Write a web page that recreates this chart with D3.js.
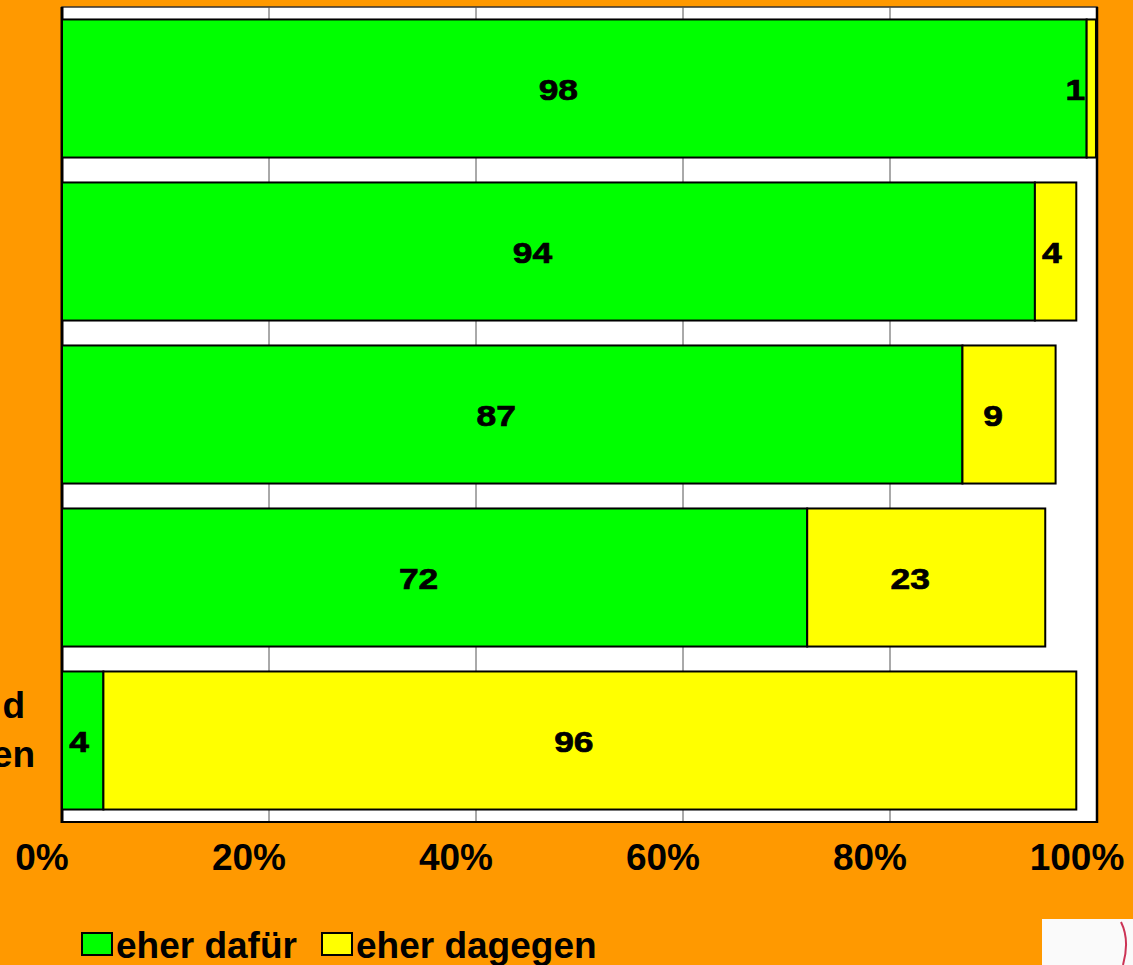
<!DOCTYPE html>
<html>
<head>
<meta charset="utf-8">
<script src="https://cdn.jsdelivr.net/npm/d3@7"></script>
<style>
  body { margin: 0; background: #ff9900; }
  svg { display: block; }
  text { font-family: "Liberation Sans", Arial, sans-serif; font-weight: bold; fill: #000; }
</style>
</head>
<body>
<div id="chart"></div>
<script>
// rows top to bottom
let rows = ["r1", "r2", "r3", "r4", "r5"];
let dafuer = [99, 94, 87, 72, 4];       // bar lengths as drawn
let dagegen = [0.9, 4, 9, 23, 94];
let dafuerLabels = ["98", "94", "87", "72", "4"];
let dagegenLabels = ["1", "4", "9", "23", "96"];
let tickValues = [0, 20, 40, 60, 80, 100];
let lastRowLabel = ["d", "en"];   // visible tail of the cut-off category label
let seriesNames = ["eher dafür", "eher dagegen"];
let seriesColors = ["#00ff00", "#ffff00"];

let width = 1133;
let height = 965;
let plotLeft = 62, plotRight = 1097, plotTop = 7, plotBottom = 822;

let svg = d3.select("#chart")
    .append("svg")
    .attr("width", width)
    .attr("height", height);

svg.append("rect")
    .attr("width", width)
    .attr("height", height)
    .attr("fill", "#ff9900");

let x = d3.scaleLinear()
    .domain([0, 100])
    .range([plotLeft, plotRight]);

let y = d3.scaleBand()
    .domain(rows)
    .range([plotTop, plotBottom])
    .paddingInner(0.153)
    .paddingOuter(0.0765);

// plot area
svg.append("rect")
    .attr("x", plotLeft)
    .attr("y", plotTop)
    .attr("width", plotRight - plotLeft)
    .attr("height", plotBottom - plotTop)
    .attr("fill", "#fff")
    .attr("stroke", "#333")
    .attr("stroke-width", 1.5);

// gridlines
svg.append("g")
    .selectAll("line")
    .data(tickValues.slice(1, -1))
    .enter()
    .append("line")
    .attr("x1", d => x(d))
    .attr("x2", d => x(d))
    .attr("y1", plotTop)
    .attr("y2", plotBottom)
    .attr("stroke", "#555")
    .attr("stroke-width", 1);

// frame edges: left, right, bottom heavier
svg.append("line")
    .attr("x1", plotLeft).attr("x2", plotLeft)
    .attr("y1", plotTop).attr("y2", plotBottom + 1)
    .attr("stroke", "#000").attr("stroke-width", 3);
svg.append("line")
    .attr("x1", plotRight).attr("x2", plotRight)
    .attr("y1", plotTop).attr("y2", plotBottom + 1)
    .attr("stroke", "#000").attr("stroke-width", 2.5);
svg.append("line")
    .attr("x1", plotLeft).attr("x2", plotRight)
    .attr("y1", plotBottom).attr("y2", plotBottom)
    .attr("stroke", "#000").attr("stroke-width", 2);

let data = rows.map((r, i) => ({
    row: r,
    segs: [
        {x0: 0, x1: dafuer[i], label: dafuerLabels[i], color: seriesColors[0]},
        {x0: dafuer[i], x1: dafuer[i] + dagegen[i], label: dagegenLabels[i], color: seriesColors[1]}
    ]
}));

let rowG = svg.append("g")
    .selectAll("g")
    .data(data)
    .enter()
    .append("g")
    .attr("transform", d => "translate(0," + y(d.row) + ")");

rowG.selectAll("rect")
    .data(d => d.segs)
    .enter()
    .append("rect")
    .attr("x", d => x(d.x0))
    .attr("y", 0)
    .attr("width", d => x(d.x1) - x(d.x0))
    .attr("height", y.bandwidth())
    .attr("fill", d => d.color)
    .attr("stroke", "#000")
    .attr("stroke-width", 2);

// value labels (a bit wide, as in the original)
rowG.selectAll("text")
    .data(d => d.segs)
    .enter()
    .append("text")
    .text(d => d.label)
    .attr("text-anchor", "middle")
    .attr("font-size", 30)
    .attr("stroke", "#000")
    .attr("stroke-width", 0.7)
    .attr("transform", function(d) {
        let x0 = x(d.x0), x1 = x(d.x1);
        let hw = d.label.length * 9;
        let lx = (x0 + x1) / 2 - 16;
        if (x1 - x0 > 2 * hw + 6 && lx - hw < x0 + 4) lx = x0 + hw + 8;
        return "translate(" + lx + "," + (y.bandwidth() / 2 + 11) + ") scale(1.18,1)";
    });

// x tick labels
svg.append("g")
    .selectAll("text")
    .data(tickValues)
    .enter()
    .append("text")
    .text(d => d + "%")
    .attr("text-anchor", "middle")
    .attr("font-size", 37)
    .attr("x", d => x(d) - 20)
    .attr("y", 870);

// cut-off category label of the last row
svg.append("g")
    .selectAll("text")
    .data(lastRowLabel)
    .enter()
    .append("text")
    .text(d => d)
    .attr("text-anchor", "end")
    .attr("font-size", 37)
    .attr("x", (d, i) => i === 0 ? 25 : 35)
    .attr("y", (d, i) => y(rows[4]) + 47 + i * 49);

// legend
let legend = svg.append("g");
let legX = [82, 322];
seriesNames.forEach((name, i) => {
    legend.append("rect")
        .attr("x", legX[i])
        .attr("y", 933)
        .attr("width", 30)
        .attr("height", 22)
        .attr("fill", seriesColors[i])
        .attr("stroke", "#000")
        .attr("stroke-width", 2);
    legend.append("text")
        .text(name)
        .attr("font-size", 37)
        .attr("x", legX[i] + 34)
        .attr("y", 958);
});

// logo corner
svg.append("rect")
    .attr("x", 1042)
    .attr("y", 919)
    .attr("width", 91)
    .attr("height", 46)
    .attr("fill", "#fafafa");
svg.append("path")
    .attr("d", "M1121,922 Q1130,940 1123,965")
    .attr("fill", "none")
    .attr("stroke", "#cc3355")
    .attr("stroke-width", 2);
</script>
</body>
</html>
